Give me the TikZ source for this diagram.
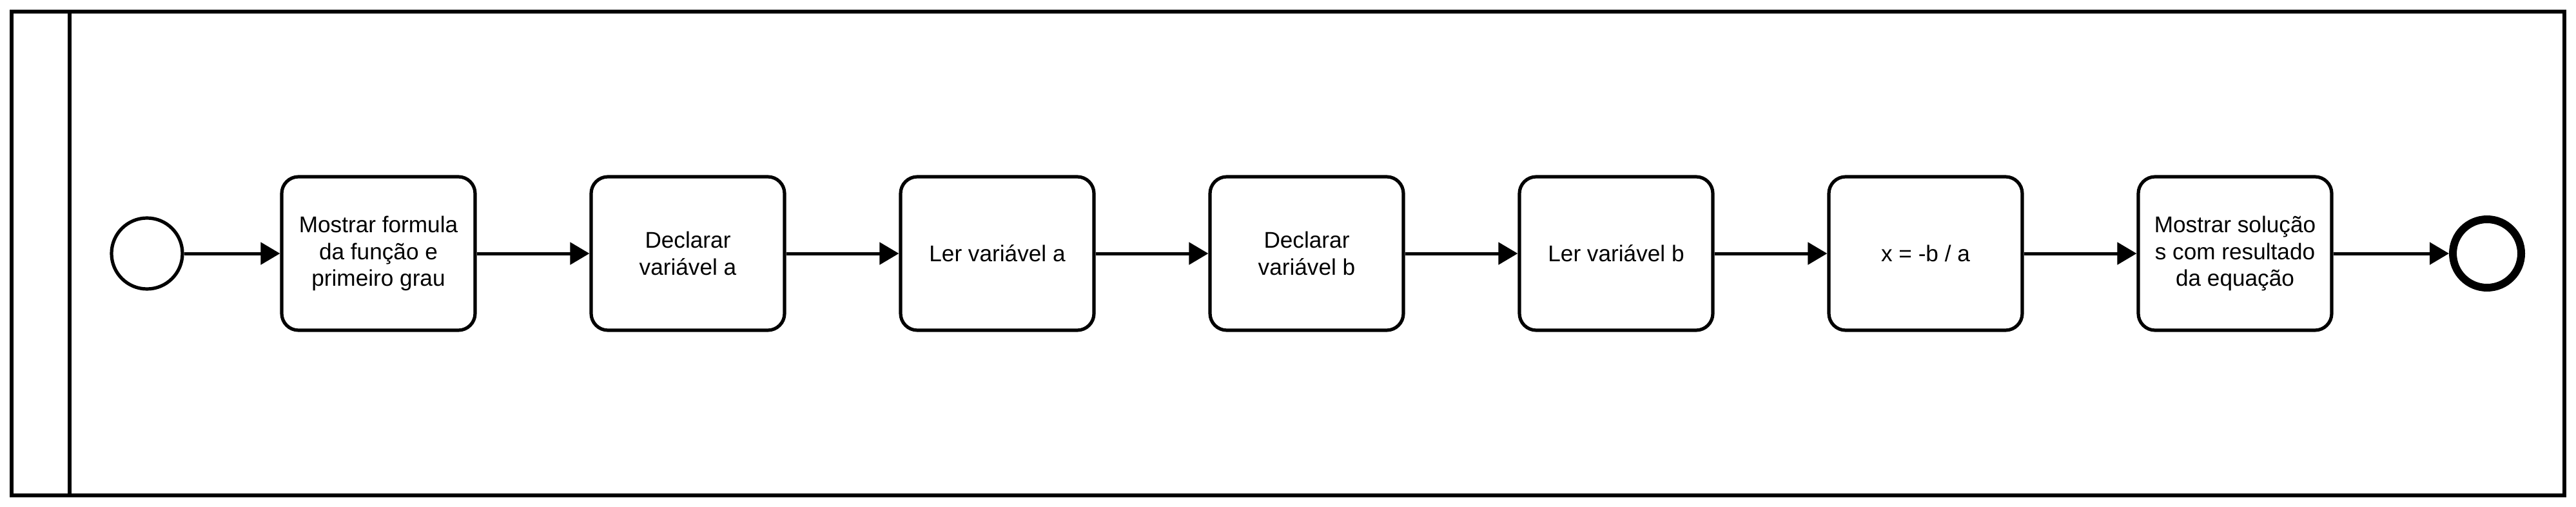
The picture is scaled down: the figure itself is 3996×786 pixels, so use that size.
\documentclass[tikz,border=0pt]{standalone}
\usepackage{fontspec}
\setmainfont{Liberation Sans}
\usetikzlibrary{arrows.meta}
\begin{document}
\begin{tikzpicture}[x=0.5pt,y=-0.5pt,
  lane/.style={draw=black,line width=3pt},
  task/.style={draw=black,line width=2.6pt,rounded corners=13pt,fill=white,
    minimum width=150pt,minimum height=119pt,align=center,inner sep=0pt,
    font=\fontsize{17.6pt}{20.8pt}\selectfont},
  startev/.style={draw=black,circle,line width=2.6pt,minimum size=55pt,inner sep=0pt,fill=white},
  endev/.style={draw=black,circle,line width=6pt,minimum size=53pt,inner sep=0pt,fill=white},
  flow/.style={draw=black,line width=2.5pt,-{Triangle[length=15pt,width=17pt]}}
]
\useasboundingbox (0,0) rectangle (3996,786);
\draw[lane] (18,18) rectangle (3978,768);
\draw[lane] (108,18) -- (108,768);

\node[startev] (s) at (228,393) {};
\node[task] (t1) at (587,393) {Mostrar formula\\da função e\\primeiro grau};
\node[task] (t2) at (1067,393) {Declarar\\variável a};
\node[task] (t3) at (1547,393) {Ler variável a};
\node[task] (t4) at (2027,393) {Declarar\\variável b};
\node[task] (t5) at (2507,393) {Ler variável b};
\node[task] (t6) at (2987,393) {x = -b / a};
\node[task] (t7) at (3467,393) {Mostrar solução\\s com resultado\\da equação};
\node[endev] (e) at (3858,393) {};

\draw[flow] (s) -- (t1);
\draw[flow] (t1) -- (t2);
\draw[flow] (t2) -- (t3);
\draw[flow] (t3) -- (t4);
\draw[flow] (t4) -- (t5);
\draw[flow] (t5) -- (t6);
\draw[flow] (t6) -- (t7);
\draw[flow] (t7) -- (e);
\end{tikzpicture}
\end{document}
